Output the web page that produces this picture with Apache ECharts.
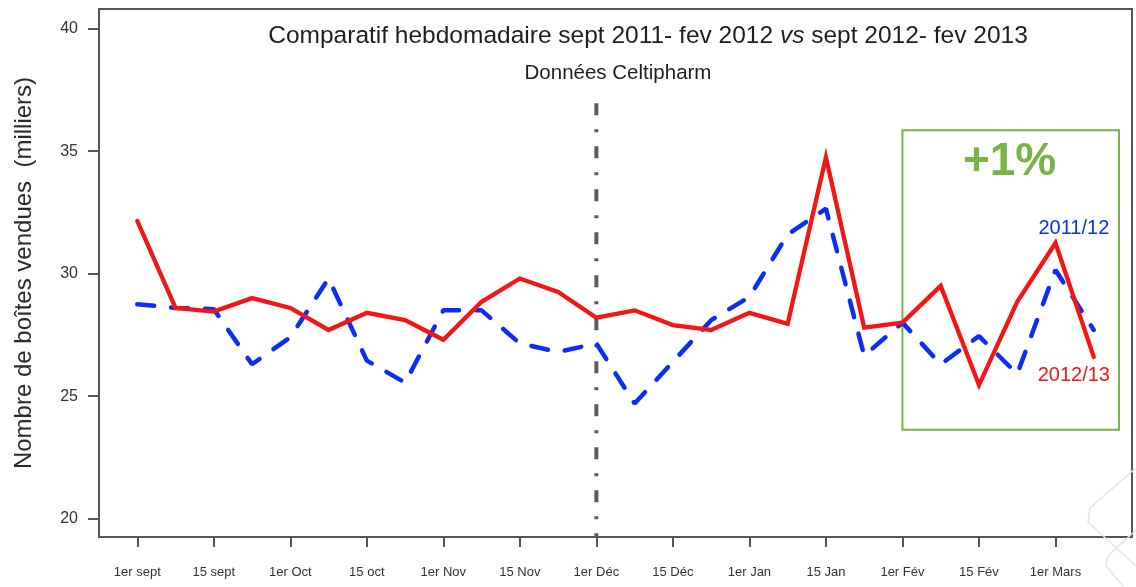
<!DOCTYPE html>
<html>
<head>
<meta charset="utf-8">
<script src="https://cdn.jsdelivr.net/npm/echarts@6/dist/echarts.min.js"></script>
<style>
  html, body { margin: 0; padding: 0; background: #fff; }
  #chart { width: 1136px; height: 587px; }
</style>
</head>
<body>
<div id="chart"></div>
<script>
// Weekly sales, thousands of boxes, week 1 = first week of September
const weeks = [1, 2, 3, 4, 5, 6, 7, 8, 9, 10, 11, 12, 13, 14, 15, 16, 17, 18, 19, 20, 21, 22, 23, 24, 25, 26];
const season2011 = [28.75, 28.6, 28.55, 26.3, 27.4, 29.8, 26.45, 25.55, 28.5, 28.5, 27.15, 26.8, 27.15,
                    24.7, 26.4, 28.1, 29.05, 31.6, 32.65, 26.65, 28.0, 26.3, 27.45, 25.9, 30.15, 27.7];
const season2012 = [32.15, 28.6, 28.45, 29.0, 28.6, 27.7, 28.4, 28.1, 27.3, 28.85, 29.8, 29.25, 28.2,
                    28.5, 27.9, 27.7, 28.4, 27.95, 34.75, 27.8, 28.0, 29.5, 25.45, 28.85, 31.25, 26.6];

// Tick positions (week numbers) and their labels
const xTickWeeks = [1, 3, 5, 7, 9, 11, 13, 15, 17, 19, 21, 23, 25];
const xTickLabels = ['1er sept', '15 sept', '1er Oct', '15 oct', '1er Nov', '15 Nov', '1er Déc',
                     '15 Déc', '1er Jan', '15 Jan', '1er Fév', '15 Fév', '1er Mars'];
const yTicks = [20, 25, 30, 35, 40];

// December 1st separator and the Feb–Mar comparison window
const decemberWeek = 13;
const separatorTop = 36.95;
const windowBox = { x0: 21, x1: 26.66, y0: 23.63, y1: 35.85 };
const windowLabel = '+1%';

const BLUE = '#0b2ef2';
const RED = '#f31616';
const GREEN = '#79b247';
const FONT = '"Liberation Sans", Arial, sans-serif';

const chart = echarts.init(document.getElementById('chart'), null, { renderer: 'canvas' });

chart.setOption({
  backgroundColor: '#ffffff',
  animation: false,
  textStyle: { fontFamily: FONT },
  title: [
    {
      text: '{a|Comparatif hebdomadaire sept 2011- fev 2012 }{b|vs}{a| sept 2012- fev 2013}',
      left: 643, top: 19, textAlign: 'center',
      textStyle: {
        fontWeight: 'normal',
        rich: {
          a: { fontFamily: FONT, fontSize: 24.5, fontWeight: 'normal', color: '#1e1e1e' },
          b: { fontFamily: FONT, fontSize: 24.5, fontWeight: 'normal', color: '#1e1e1e', fontStyle: 'italic' }
        }
      }
    },
    {
      text: 'Données Celtipharm',
      left: 613, top: 58, textAlign: 'center',
      textStyle: { fontFamily: FONT, fontSize: 20.5, fontWeight: 'normal', color: '#1e1e1e' }
    }
  ],
  grid: {
    left: 99, right: 4, top: 9, bottom: 50,
    show: true, borderColor: '#555', borderWidth: 2, backgroundColor: 'transparent'
  },
  xAxis: {
    type: 'value', min: 0, max: 27,
    splitLine: { show: false },
    axisLine: { show: false },
    axisTick: { show: true, customValues: xTickWeeks, length: 10, lineStyle: { color: '#555', width: 2 } },
    axisLabel: {
      customValues: xTickWeeks,
      formatter: v => xTickLabels[xTickWeeks.indexOf(v)] || '',
      fontFamily: FONT, fontSize: 13, color: '#333', margin: 29
    }
  },
  yAxis: {
    type: 'value', min: 19.25, max: 40.8,
    name: 'Nombre de boîtes vendues  (milliers)',
    nameLocation: 'middle', nameRotate: 90, nameGap: 63,
    nameTextStyle: { fontFamily: FONT, fontSize: 24, color: '#2a2a2a' },
    splitLine: { show: false },
    axisLine: { show: false },
    axisTick: { show: true, customValues: yTicks, length: 11, lineStyle: { color: '#555', width: 2 } },
    axisLabel: {
      customValues: yTicks,
      fontFamily: FONT, fontSize: 16, color: '#333', margin: 21
    }
  },
  series: [
    {
      name: '2011/12', type: 'line',
      data: weeks.map((w, i) => [w, season2011[i]]),
      symbol: 'none', z: 3,
      lineStyle: { color: BLUE, width: 4.5, type: [17, 17], cap: 'round' },
      markPoint: {
        symbolSize: 0, silent: true,
        label: { show: true, position: 'inside', color: BLUE, fontFamily: FONT, fontSize: 20 },
        data: [{ coord: [25.48, 31.85], value: '2011/12', label: { formatter: '2011/12' } }]
      },
      markArea: {
        silent: true,
        itemStyle: { color: 'rgba(0,0,0,0)', borderColor: GREEN, borderWidth: 2 },
        label: { show: false },
        data: [[{ coord: [windowBox.x0, windowBox.y1] }, { coord: [windowBox.x1, windowBox.y0] }]]
      }
    },
    {
      name: '2012/13', type: 'line',
      data: weeks.map((w, i) => [w, season2012[i]]),
      symbol: 'none', z: 4,
      lineStyle: { color: RED, width: 4.3, cap: 'round', join: 'miter' },
      markPoint: {
        symbolSize: 0, silent: true,
        label: { show: true, position: 'inside', fontFamily: FONT },
        data: [
          { coord: [25.48, 25.85], label: { formatter: '2012/13', color: RED, fontSize: 20 } },
          { coord: [23.8, 34.55], label: { formatter: windowLabel, color: GREEN, fontSize: 46, fontWeight: 'bold' } }
        ]
      }
    },
    {
      name: 'separator', type: 'line',
      data: [[decemberWeek, separatorTop], [decemberWeek, 19.25]],
      symbol: 'none', z: 2,
      lineStyle: { color: '#5c5c5c', width: 4, type: [12, 14, 3, 14], cap: 'butt' }
    }
  ],
  graphic: [
    {
      type: 'polyline', silent: true,
      shape: { points: [[1136, 468], [1090, 508], [1088, 522], [1136, 566]] },
      style: { stroke: '#e4e4e4', lineWidth: 1.5, fill: null }
    },
    {
      type: 'polyline', silent: true,
      shape: { points: [[1136, 530], [1108, 556], [1106, 566], [1124, 587]] },
      style: { stroke: '#e4e4e4', lineWidth: 1.5, fill: null }
    }
  ]
});
</script>
</body>
</html>
